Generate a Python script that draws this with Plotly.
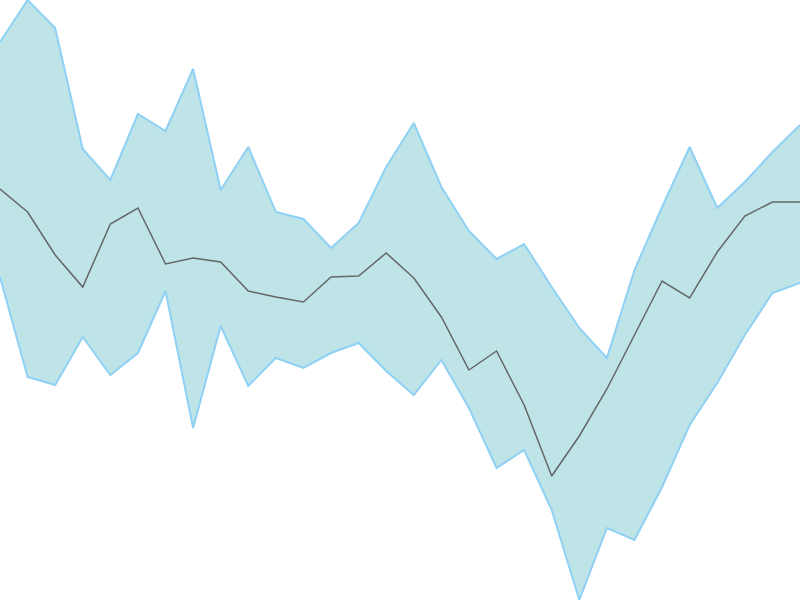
import plotly.graph_objects as go

steps = list(range(30))

upper = [558, 600, 572, 451, 420, 486, 469, 531, 410, 453,
         388, 381, 352, 377, 433, 477, 413, 369, 341, 356,
         313, 272, 242, 330, 393, 453, 392, 418, 448, 475]

middle = [411, 388, 345, 313, 376, 392, 336, 342, 338, 309,
          303, 298, 323, 324, 347, 322, 283, 230, 249, 195,
          124, 164, 211, 265, 319, 302, 348, 384, 398, 398]

lower = [323, 223, 215, 263, 225, 247, 309, 172, 274, 214,
         242, 232, 247, 257, 229, 205, 240, 192, 132, 150,
         90, 0, 72, 60, 113, 175, 217, 265, 307, 317]

fig = go.Figure()

# band: lower edge first, upper edge fills down to it
fig.add_trace(go.Scatter(x=steps, y=lower, mode="lines",
                         line=dict(color="#8fd0f5", width=2)))
fig.add_trace(go.Scatter(x=steps, y=upper, mode="lines", fill="tonexty",
                         fillcolor="#bee4e8",
                         line=dict(color="#8fd0f5", width=2)))
fig.add_trace(go.Scatter(x=steps, y=middle, mode="lines",
                         line=dict(color="#666666", width=1.5)))

fig.update_layout(
    width=800, height=600,
    margin=dict(l=0, r=0, t=0, b=0),
    paper_bgcolor="white", plot_bgcolor="white",
    showlegend=False,
    xaxis=dict(visible=False, range=[steps[0], steps[-1]]),
    yaxis=dict(visible=False, range=[min(lower), max(upper)]),
)

# drop the default body margin so the chart sits flush in the window
fig.write_html("out.html", config={"displayModeBar": False},
               post_script="document.body.style.margin='0';")
